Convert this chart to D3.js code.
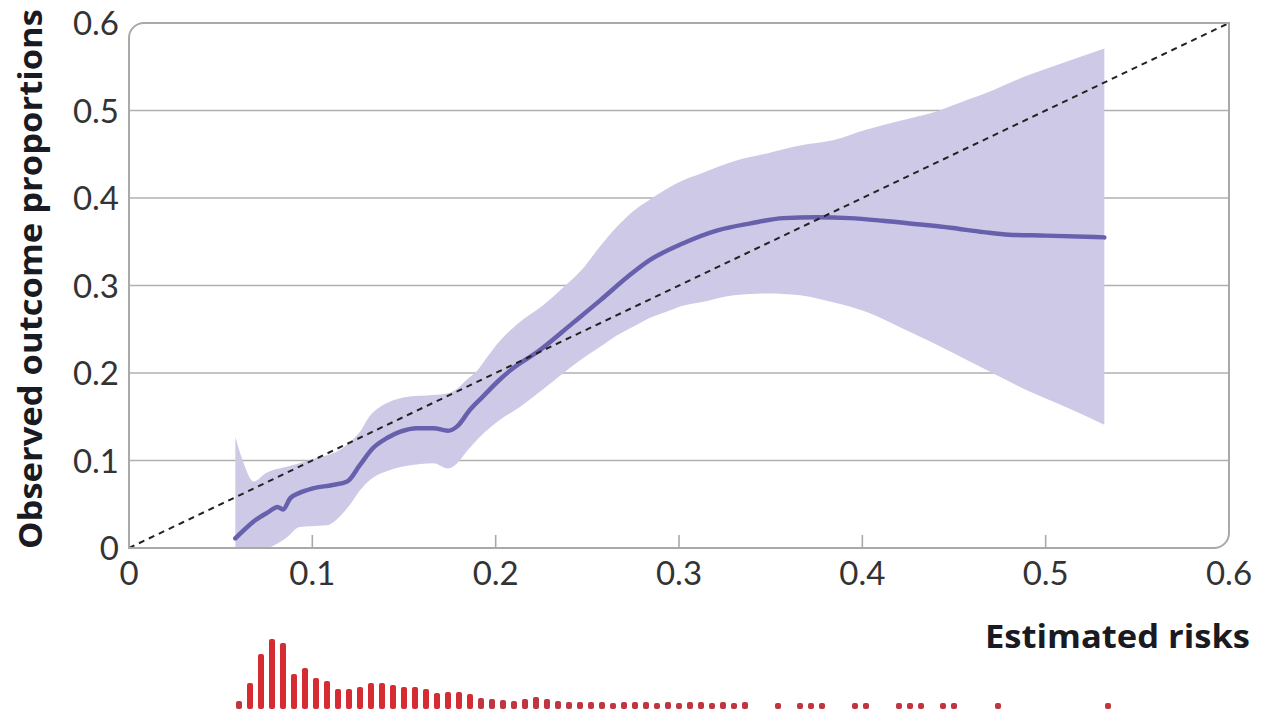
<!DOCTYPE html>
<html>
<head>
<meta charset="utf-8">
<script src="https://cdn.jsdelivr.net/npm/d3@7"></script>
<style>
  body { margin: 0; background: #fff; }
  svg { display: block; font-family: Lato, "Open Sans", sans-serif; }
</style>
</head>
<body>
<div id="chart"></div>
<script>
// smoothed calibration curve
const calRisk = [0.058, 0.069, 0.076, 0.081, 0.084, 0.088, 0.093, 0.100, 0.111, 0.119,
  0.126, 0.133, 0.141, 0.148, 0.157, 0.166, 0.174, 0.179, 0.186, 0.193,
  0.202, 0.208, 0.224, 0.242, 0.257, 0.272, 0.284, 0.302, 0.321, 0.339,
  0.357, 0.375, 0.393, 0.411, 0.430, 0.448, 0.466, 0.480, 0.500, 0.532];
const calObs = [0.011, 0.032, 0.041, 0.047, 0.044, 0.057, 0.063, 0.068, 0.072, 0.076,
  0.095, 0.114, 0.126, 0.133, 0.137, 0.137, 0.134, 0.139, 0.158, 0.173,
  0.192, 0.203, 0.226, 0.257, 0.283, 0.310, 0.329, 0.348, 0.363, 0.371,
  0.377, 0.378, 0.377, 0.374, 0.370, 0.366, 0.361, 0.358, 0.357, 0.355];

// confidence band
const bandRisk = [0.058, 0.062, 0.068, 0.075, 0.080, 0.086, 0.093, 0.099, 0.108, 0.115,
  0.121, 0.126, 0.131, 0.136, 0.142, 0.152, 0.166, 0.174, 0.179, 0.184,
  0.190, 0.196, 0.202, 0.213, 0.225, 0.237, 0.247, 0.257, 0.266, 0.275,
  0.284, 0.293, 0.302, 0.312, 0.330, 0.348, 0.366, 0.384, 0.402, 0.420,
  0.439, 0.457, 0.471, 0.490, 0.510, 0.532];
const bandLower = [0.000, 0.000, 0.000, 0.000, 0.004, 0.012, 0.024, 0.025, 0.026, 0.036,
  0.051, 0.066, 0.077, 0.084, 0.089, 0.094, 0.097, 0.091, 0.097, 0.110,
  0.124, 0.136, 0.146, 0.161, 0.180, 0.200, 0.216, 0.230, 0.243, 0.253,
  0.263, 0.270, 0.277, 0.281, 0.289, 0.291, 0.289, 0.281, 0.270, 0.253,
  0.234, 0.215, 0.200, 0.180, 0.162, 0.141];
const bandUpper = [0.127, 0.100, 0.076, 0.086, 0.090, 0.093, 0.097, 0.101, 0.106, 0.112,
  0.122, 0.133, 0.150, 0.160, 0.167, 0.173, 0.175, 0.177, 0.182, 0.192,
  0.203, 0.220, 0.236, 0.258, 0.276, 0.298, 0.318, 0.345, 0.367, 0.385,
  0.398, 0.410, 0.420, 0.428, 0.442, 0.451, 0.460, 0.466, 0.478, 0.488,
  0.498, 0.512, 0.523, 0.540, 0.555, 0.571];

// distribution of estimated risks (relative frequency)
const histRisk = [0.060, 0.066, 0.072, 0.078, 0.084, 0.090, 0.096, 0.102, 0.108, 0.114,
  0.120, 0.126, 0.132, 0.138, 0.144, 0.150, 0.156, 0.162, 0.168, 0.174,
  0.180, 0.186, 0.192, 0.198, 0.204, 0.210, 0.216, 0.222, 0.228, 0.234,
  0.240, 0.246, 0.252, 0.258, 0.264, 0.270, 0.276, 0.282, 0.288, 0.294,
  0.300, 0.306, 0.312, 0.318, 0.324, 0.330, 0.336,
  0.354, 0.366, 0.372, 0.378, 0.396, 0.402, 0.420, 0.426, 0.432, 0.444, 0.450, 0.474, 0.534];
const histFreq = [8, 26, 55, 70, 66, 35, 41, 31, 28, 20,
  20, 22, 26, 26, 24, 22, 22, 20, 16, 17,
  17, 15, 11, 10, 9, 8, 10, 12, 10, 8,
  7, 7, 7, 7, 6, 7, 7, 7, 6, 7,
  6, 7, 7, 6, 7, 6, 7,
  6, 6, 6, 6, 6, 6, 6, 6, 6, 6, 6, 6, 6];

const xTicks = [0, 0.1, 0.2, 0.3, 0.4, 0.5, 0.6];
const yTicks = [0, 0.1, 0.2, 0.3, 0.4, 0.5, 0.6];

const width = 1261;
const height = 718;

const svg = d3.select("#chart")
  .append("svg")
  .attr("width", width)
  .attr("height", height);

const x = d3.scaleLinear().domain([0, 0.6]).range([129, 1229]);
const y = d3.scaleLinear().domain([0, 0.6]).range([548, 23]);

const x0 = x(0), x1 = x(0.6), y0 = y(0.6), y1 = y(0);

// grid lines
svg.append("g")
  .selectAll("line")
  .data(yTicks.filter(d => d > 0 && d < 0.6))
  .join("line")
  .attr("x1", x0).attr("x2", x1)
  .attr("y1", d => y(d)).attr("y2", d => y(d))
  .style("stroke", "#b0b0b0")
  .style("stroke-width", 1.6);

// band
const band = bandRisk.map((r, i) => ({ r, lo: bandLower[i], hi: bandUpper[i] }));
svg.append("path")
  .datum(band)
  .attr("d", d3.area()
    .x(d => x(d.r))
    .y0(d => y(d.lo))
    .y1(d => y(d.hi))
    .curve(d3.curveMonotoneX))
  .style("fill", "#cdc9e6");

// calibration curve
const cal = calRisk.map((r, i) => ({ r, p: calObs[i] }));
svg.append("path")
  .datum(cal)
  .attr("d", d3.line()
    .x(d => x(d.r))
    .y(d => y(d.p))
    .curve(d3.curveMonotoneX))
  .style("fill", "none")
  .style("stroke", "#6760ad")
  .style("stroke-width", 4.5)
  .style("stroke-linecap", "round");

// ideal line
svg.append("line")
  .attr("x1", x(0)).attr("y1", y(0))
  .attr("x2", x(0.6)).attr("y2", y(0.6))
  .style("stroke", "#222")
  .style("stroke-width", 2)
  .style("stroke-dasharray", "6,5");

// frame with rounded top-left and bottom-right corners
const R = 15;
const frame = d3.path();
frame.moveTo(x0, y0 + R);
frame.arcTo(x0, y0, x0 + R, y0, R);
frame.lineTo(x1, y0);
frame.lineTo(x1, y1 - R);
frame.arcTo(x1, y1, x1 - R, y1, R);
frame.lineTo(x0, y1);
frame.closePath();
svg.append("path")
  .attr("d", frame.toString())
  .style("fill", "none")
  .style("stroke", "#a9a9a9")
  .style("stroke-width", 2);

// x ticks
svg.append("g")
  .selectAll("line")
  .data(xTicks.filter(d => d > 0 && d < 0.6))
  .join("line")
  .attr("x1", d => x(d)).attr("x2", d => x(d))
  .attr("y1", y1).attr("y2", y1 - 13)
  .style("stroke", "#a9a9a9")
  .style("stroke-width", 1.6);

// tick labels
svg.append("g")
  .selectAll("text")
  .data(xTicks)
  .join("text")
  .attr("x", d => x(d))
  .attr("y", y1 + 37)
  .attr("text-anchor", "middle")
  .attr("font-size", "33px")
  .style("fill", "#333")
  .text(d => d === 0 ? "0" : d3.format(".1f")(d));

svg.append("g")
  .selectAll("text")
  .data(yTicks)
  .join("text")
  .attr("x", 119)
  .attr("y", d => y(d) + 12)
  .attr("text-anchor", "end")
  .attr("font-size", "33px")
  .style("fill", "#333")
  .text(d => d === 0 ? "0" : d3.format(".1f")(d));

// axis titles
svg.append("text")
  .attr("transform", "translate(42,279) rotate(-90)")
  .attr("text-anchor", "middle")
  .attr("font-family", "'Open Sans', sans-serif")
  .attr("font-size", "32px")
  .attr("font-weight", "bold")
  .attr("textLength", 540)
  .attr("lengthAdjust", "spacingAndGlyphs")
  .style("fill", "#1a1a22")
  .text("Observed outcome proportions");

svg.append("text")
  .attr("x", 1250)
  .attr("y", 648)
  .attr("text-anchor", "end")
  .attr("font-family", "'Open Sans', sans-serif")
  .attr("font-size", "32px")
  .attr("font-weight", "bold")
  .attr("textLength", 265)
  .attr("lengthAdjust", "spacingAndGlyphs")
  .style("fill", "#1a1a22")
  .text("Estimated risks");

// histogram of estimated risks
const h = d3.scaleLinear().domain([0, 70]).range([0, 70]);
const histBase = 709;
svg.append("g")
  .selectAll("rect")
  .data(histRisk.map((r, i) => ({ r, f: histFreq[i] })))
  .join("rect")
  .attr("x", d => x(d.r) - 3)
  .attr("y", d => histBase - h(d.f))
  .attr("width", 6)
  .attr("height", d => h(d.f))
  .attr("rx", 2)
  .style("fill", d => d.f > 12 ? "#d52b33" : "#bf3540");
</script>
</body>
</html>
